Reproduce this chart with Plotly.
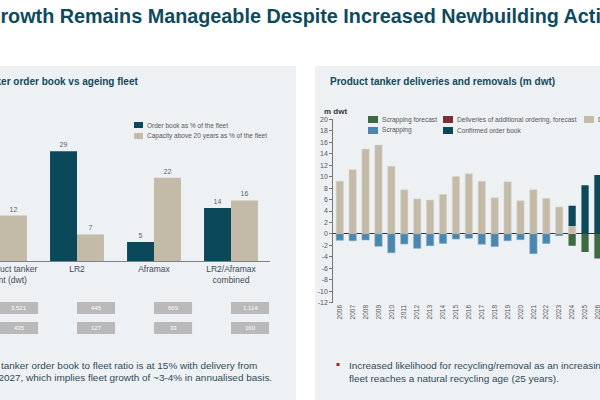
import plotly.graph_objects as go

W, H = 600, 400
FONT = "Arial, Liberation Sans, sans-serif"

# ---------------- data ----------------
# Left chart
left_categories = ["Total product tanker<br>segment (dwt)", "LR2", "Aframax", "LR2/Aframax<br>combined"]
order_book_pct = [15, 29, 5, 14]
capacity_20y_pct = [12, 7, 22, 16]
fleet_size_row = ["3,521", "445", "669", "1,114"]
order_size_row = ["435", "127", "33", "160"]

# Right chart
years = list(range(2006, 2027))
deliveries = [9.2, 11.2, 14.8, 15.5, 11.8, 7.7, 6.1, 5.9, 6.9, 10.0, 10.5, 9.2, 6.3, 9.1, 5.8,
              7.7, 6.2, 4.7, 1.4, None, None]
confirmed_order_book = [None] * 18 + [3.5, 8.5, 10.3]
scrapping = [-1.1, -1.2, -1.05, -2.15, -3.3, -1.75, -2.5, -2.05, -1.65, -0.9, -0.77, -1.8, -2.2,
             -1.2, -1.0, -3.45, -1.65, -0.3, None, None, None]
scrapping_forecast = [None] * 18 + [-2.05, -3.15, -4.3]
y_ticks = list(range(-12, 21, 2))

# colours
C_DARK = "#0b4859"
C_BEIGE = "#c3baa8"
C_BLUE = "#4a86ae"
C_GREEN = "#3d6a40"
C_RED = "#7d2f36"
C_PANEL = "#eef1f4"
C_TITLE = "#0e4a5c"
C_TEXT = "#3b4a55"


def X(px):
    return px / W


def Y(py):
    return 1 - py / H


fig = go.Figure()

# ---------------- left chart ----------------
fig.add_trace(go.Bar(
    x=list(range(len(left_categories))), y=order_book_pct, name="Order book as % of the fleet",
    width=0.35, offset=-0.35, marker=dict(color=C_DARK, line=dict(width=0)),
    text=order_book_pct, textposition="outside",
    textfont=dict(size=7, color="#56646e", family=FONT),
    xaxis="x", yaxis="y", showlegend=False, hoverinfo="skip"))
fig.add_trace(go.Bar(
    x=list(range(len(left_categories))), y=capacity_20y_pct, name="Capacity above 20 years as % of the fleet",
    width=0.35, offset=0, marker=dict(color=C_BEIGE, line=dict(width=0)),
    text=capacity_20y_pct, textposition="outside",
    textfont=dict(size=7, color="#56646e", family=FONT),
    xaxis="x", yaxis="y", showlegend=False, hoverinfo="skip"))

# ---------------- right chart ----------------
ob_base = [(d if d is not None else 0) if o is not None else None
           for d, o in zip(deliveries, confirmed_order_book)]
bw = 0.56
fig.add_trace(go.Bar(x=years, y=deliveries, name="Deliveries", width=bw,
                     marker=dict(color=C_BEIGE, line=dict(width=0.6, color="#d9d3c7")),
                     xaxis="x2", yaxis="y2", showlegend=False, hoverinfo="skip"))
fig.add_trace(go.Bar(x=years, y=confirmed_order_book, base=ob_base, name="Confirmed order book", width=bw,
                     marker=dict(color=C_DARK, line=dict(width=0)),
                     xaxis="x2", yaxis="y2", showlegend=False, hoverinfo="skip"))
fig.add_trace(go.Bar(x=years, y=scrapping, name="Scrapping", width=bw,
                     marker=dict(color=C_BLUE, line=dict(width=0.6, color="#7fa8c4")),
                     xaxis="x2", yaxis="y2", showlegend=False, hoverinfo="skip"))
fig.add_trace(go.Bar(x=years, y=scrapping_forecast, name="Scrapping forecast", width=bw,
                     marker=dict(color=C_GREEN, line=dict(width=0)),
                     xaxis="x2", yaxis="y2", showlegend=False, hoverinfo="skip"))

shapes = []
ann = []

# panels
shapes.append(dict(type="rect", xref="paper", yref="paper", x0=-0.05, x1=X(296), y0=-0.05, y1=Y(66),
                   fillcolor=C_PANEL, line=dict(width=0), layer="below"))
shapes.append(dict(type="rect", xref="paper", yref="paper", x0=X(315), x1=1.05, y0=-0.05, y1=Y(66),
                   fillcolor=C_PANEL, line=dict(width=0), layer="below"))

# main title
ann.append(dict(text="<b>Growth Remains Manageable Despite Increased Newbuilding Activity</b>",
                x=X(-17), y=Y(16), xref="paper", yref="paper", xanchor="left", yanchor="middle",
                showarrow=False, font=dict(size=19.8, color=C_TITLE, family=FONT)))

# panel titles
ann.append(dict(text="<b>Product tanker order book vs ageing fleet</b>", x=X(140), y=Y(82),
                xref="paper", yref="paper", xanchor="right", yanchor="middle", showarrow=False,
                font=dict(size=10, color=C_TITLE, family=FONT)))
ann.append(dict(text="<b>Product tanker deliveries and removals (m dwt)</b>", x=X(328), y=Y(82),
                xref="paper", yref="paper", xanchor="left", yanchor="middle", showarrow=False,
                font=dict(size=10, color=C_TITLE, family=FONT)))

# left legend
left_legend = [("Order book as % of the fleet", C_DARK), ("Capacity above 20 years as % of the fleet", C_BEIGE)]
for i, (name, col) in enumerate(left_legend):
    yc = 125 + 11 * i
    shapes.append(dict(type="rect", xref="paper", yref="paper", x0=X(134), x1=X(143), y0=Y(yc - 3),
                       y1=Y(yc + 3), fillcolor=col, line=dict(width=0)))
    ann.append(dict(text=name, x=X(145), y=Y(yc), xref="paper", yref="paper", xanchor="left",
                    yanchor="middle", showarrow=False, font=dict(size=6.5, color="#555", family=FONT)))

# right legend
right_legend = [("Scrapping forecast", C_GREEN, 0, 0), ("Deliveries of additional ordering, forecast", C_RED, 1, 0),
                ("Deliveries", C_BEIGE, 2, 0), ("Scrapping", C_BLUE, 0, 1), ("Confirmed order book", C_DARK, 1, 1)]
col_x = [368, 443, 584]
for name, col, c, r in right_legend:
    yc = 119.5 + 11 * r
    shapes.append(dict(type="rect", xref="paper", yref="paper", x0=X(col_x[c]), x1=X(col_x[c] + 10),
                       y0=Y(yc - 3.5), y1=Y(yc + 3.5), fillcolor=col, line=dict(width=0)))
    ann.append(dict(text=name, x=X(col_x[c] + 12), y=Y(yc), xref="paper", yref="paper", xanchor="left",
                    yanchor="middle", showarrow=False, font=dict(size=6.6, color="#555", family=FONT)))

# m dwt label
ann.append(dict(text="<b>m dwt</b>", x=X(322), y=Y(111), xref="paper", yref="paper", xanchor="left",
                yanchor="middle", showarrow=False, font=dict(size=8, color="#333", family=FONT)))

# grey boxes under left chart
for row_vals, yc in [(fleet_size_row, 308), (order_size_row, 328)]:
    for i, v in enumerate(row_vals):
        shapes.append(dict(type="rect", xref="x", yref="paper", x0=i, x1=i + 0.494, y0=Y(yc - 6),
                           y1=Y(yc + 6), fillcolor="#b9b9b9", line=dict(width=0)))
        ann.append(dict(text=v, x=i + 0.247, y=Y(yc), xref="x", yref="paper", xanchor="center",
                        yanchor="middle", showarrow=False, font=dict(size=6, color="white", family=FONT)))

# bullet texts
BF = 9.95
ann.append(dict(text="Product tanker order book to fleet ratio is at 15% with delivery from", x=X(259), y=Y(365.5),
                xref="paper", yref="paper", xanchor="right", yanchor="middle", showarrow=False,
                font=dict(size=BF, color="#2f4a58", family=FONT)))
ann.append(dict(text="2024-2027, which implies fleet growth of ~3-4% in annualised basis.", x=X(274), y=Y(377.5),
                xref="paper", yref="paper", xanchor="right", yanchor="middle", showarrow=False,
                font=dict(size=BF, color="#2f4a58", family=FONT)))
shapes.append(dict(type="rect", xref="paper", yref="paper", x0=X(336.5), x1=X(339.5), y0=Y(366),
                   y1=Y(363), fillcolor="#d0101b", line=dict(width=0)))
ann.append(dict(text="Increased likelihood for recycling/removal as an increasing share of the", x=X(347), y=Y(365),
                xref="paper", yref="paper", xanchor="left", yanchor="middle", showarrow=False,
                font=dict(size=BF, color="#2f4a58", family=FONT)))
ann.append(dict(text="fleet reaches a natural recycling age (25 years).", x=X(347), y=Y(378.5),
                xref="paper", yref="paper", xanchor="left", yanchor="middle", showarrow=False,
                font=dict(size=BF, color="#2f4a58", family=FONT)))

fig.update_layout(
    width=W, height=H, margin=dict(l=0, r=0, t=0, b=0, autoexpand=False),
    paper_bgcolor="white", plot_bgcolor="rgba(0,0,0,0)",
    barmode="overlay", showlegend=False,
    font=dict(family=FONT, color=C_TEXT),
    shapes=shapes, annotations=ann,
    xaxis=dict(domain=[0, X(269.5)], range=[0, 3.5], tickvals=list(range(len(left_categories))),
               ticktext=left_categories, showline=True, linecolor="#7d8489", linewidth=1, ticks="",
               ticklabeloverflow="allow", automargin=False,
               showgrid=False, zeroline=False, tickfont=dict(size=8.5, color=C_TEXT, family=FONT), fixedrange=True),
    yaxis=dict(domain=[Y(261), Y(136)], range=[0, 33], visible=False, showgrid=False, zeroline=False,
               automargin=False),
    xaxis2=dict(domain=[X(333.3), 1], range=[2005.5, 2005.5 + (600 - 333.3) / 12.91], anchor="y2",
                tickvals=years, ticktext=[str(y) for y in years], tickangle=-90, showline=False, ticks="",
                ticklabeloverflow="allow", automargin=False,
                showgrid=False, zeroline=False, tickfont=dict(size=6.5, color="#555", family=FONT)),
    yaxis2=dict(domain=[Y(302.7), Y(119.3)], range=[-12, 20], anchor="x2", tickvals=y_ticks,
                ticktext=[str(v) for v in y_ticks], showline=True, linecolor="#777", linewidth=1,
                ticks="outside", ticklen=3, tickcolor="#777", showgrid=False, zeroline=True, automargin=False,
                zerolinecolor="#333", zerolinewidth=1, tickfont=dict(size=7, color="#555", family=FONT)),
)

fig.write_html("out.html")
